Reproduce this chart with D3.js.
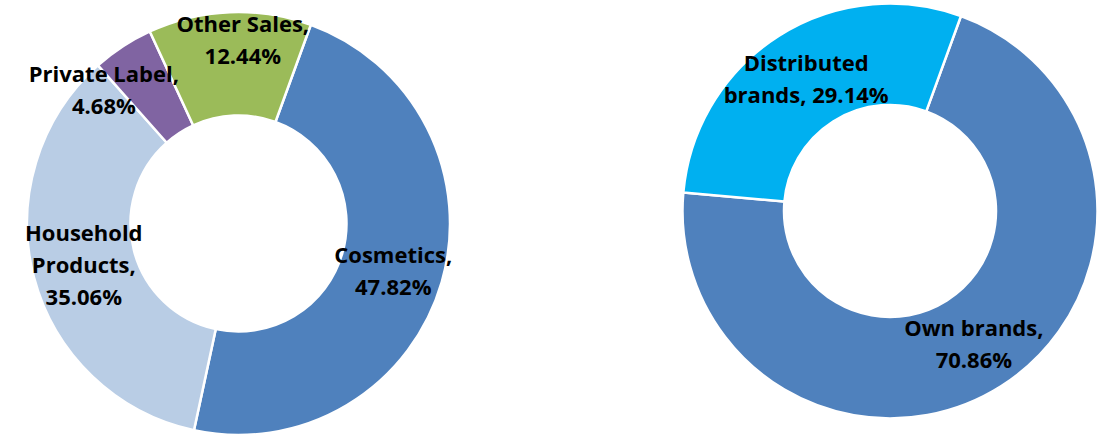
<!DOCTYPE html>
<html>
<head>
<meta charset="utf-8">
<script src="https://cdn.jsdelivr.net/npm/d3@7/dist/d3.min.js"></script>
<style>
  html, body { margin: 0; padding: 0; background: #fff; }
  svg text { font-family: "Open Sans", Lato, "Liberation Sans", sans-serif; font-weight: bold; fill: #000; }
</style>
</head>
<body>
<svg id="chart" width="1102" height="437"></svg>
<script>
// Sales split by business line
const segmentNames = ["Cosmetics", "Household Products", "Private Label", "Other Sales"];
const segmentShares = [47.82, 35.06, 4.68, 12.44];

// Sales split by brand ownership
const brandNames = ["Own brands", "Distributed brands"];
const brandShares = [70.86, 29.14];

// How each label is broken into lines
const segmentLabelLines = [
  ["Cosmetics,", "47.82%"],
  ["Household", "Products,", "35.06%"],
  ["Private Label,", "4.68%"],
  ["Other Sales,", "12.44%"]
];
const brandLabelLines = [
  ["Own brands,", "70.86%"],
  ["Distributed", "brands, 29.14%"]
];

const svg = d3.select("#chart");
const startAngle = 20 * Math.PI / 180;
const fontSize = 22;
const lineHeight = 32;

function drawDonut(cfg) {
  const g = svg.append("g").attr("transform", `translate(${cfg.cx},${cfg.cy})`);
  const pie = d3.pie().sort(null).value(d => d)
    .startAngle(startAngle).endAngle(startAngle + 2 * Math.PI);
  const arcs = pie(cfg.values);
  const arc = d3.arc().innerRadius(cfg.inner).outerRadius(cfg.outer);
  const labelArc = d3.arc().innerRadius(cfg.labelR).outerRadius(cfg.labelR);
  const color = d3.scaleOrdinal().domain(cfg.names).range(cfg.colors);

  g.selectAll("path.slice").data(arcs).enter().append("path")
    .attr("class", "slice")
    .attr("d", arc)
    .attr("fill", (d, i) => color(cfg.names[i]))
    .attr("stroke", "#fff")
    .attr("stroke-width", 2.5)
    .attr("stroke-linejoin", "round");

  const labels = g.selectAll("text.lbl").data(arcs).enter().append("text")
    .attr("class", "lbl")
    .attr("text-anchor", "middle")
    .style("font-size", fontSize + "px")
    .attr("transform", (d, i) => {
      const c = labelArc.centroid(d);
      const n = cfg.nudge[i] || [0, 0];
      return `translate(${c[0] + n[0]},${c[1] + n[1]})`;
    });

  labels.each(function(d, i) {
    const lines = cfg.lines[i];
    const t = d3.select(this);
    const y0 = -(lines.length - 1) * lineHeight / 2;
    lines.forEach((ln, k) => {
      t.append("tspan")
        .attr("x", 0)
        .attr("y", y0 + k * lineHeight)
        .attr("dy", "0.35em")
        .text(ln);
    });
  });
}

drawDonut({
  cx: 238.5, cy: 223.5, outer: 211.5, inner: 108, labelR: 160,
  names: segmentNames, values: segmentShares, lines: segmentLabelLines,
  colors: ["#4F81BD", "#B9CDE5", "#8064A2", "#9BBB59"],
  nudge: [[1, 3], [0, 1], [-47, 1], [11, -23]]
});

drawDonut({
  cx: 890, cy: 211, outer: 207.5, inner: 106, labelR: 160,
  names: brandNames, values: brandShares, lines: brandLabelLines,
  colors: ["#4F81BD", "#00B0F0"],
  nudge: [[-2, -2], [2, 3]]
});
</script>
</body>
</html>
